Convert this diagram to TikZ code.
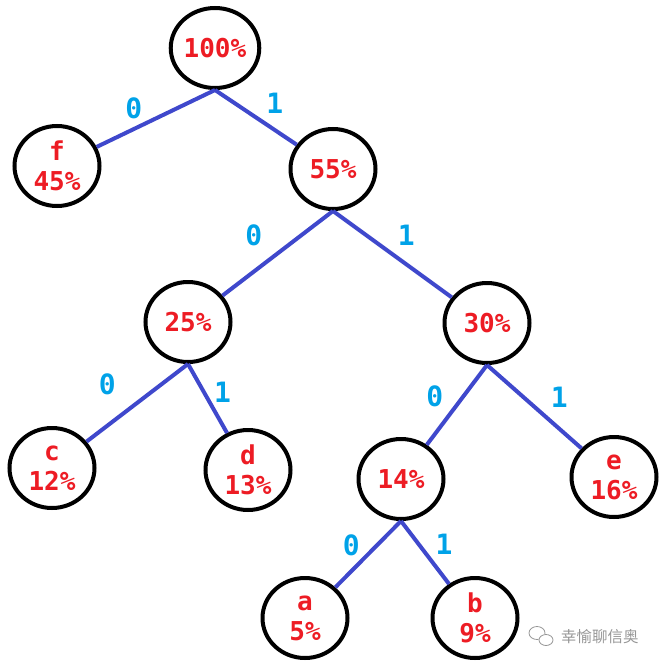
\documentclass[tikz,border=0pt]{standalone}
\usepackage{fontspec}
\setmonofont{DejaVu Sans Mono}
\newfontfamily\cjk{Noto Sans CJK SC}
\usepackage{xcolor}
\usepackage{tikz}
\usetikzlibrary{
	arrows.meta,
	calc,
	shapes.geometric
}
\definecolor{pctred}{RGB}{237,28,36}
\definecolor{edgeblue}{RGB}{63,72,204}
\definecolor{bitblue}{RGB}{0,162,232}
\definecolor{markgray}{RGB}{150,150,150}

\begin{document}
\begin{tikzpicture}[x=1pt, y=-1pt,
		bubble/.style={draw, ellipse, line width=4pt, minimum width=85pt, minimum height=80pt,
			inner sep=0pt, align=center, text=pctred,
			font=\ttfamily\bfseries\fontsize{26}{30}\selectfont},
		edge/.style={draw=edgeblue, line width=4pt},
		bitlabel/.style={text=bitblue, inner sep=0pt, font=\ttfamily\bfseries\fontsize{28}{30}\selectfont}]
		\useasboundingbox (0,0) rectangle (662,669);
		\node[bubble] (root) at (215,48) {100\%};
		\node[bubble] (f) at (57,166) {f\\45\%};
		\node[bubble] (n55) at (333,169) {55\%};
		\node[bubble] (n25) at (188,322) {25\%};
		\node[bubble] (n30) at (487,323) {30\%};
		\node[bubble] (c) at (52,468) {c\\12\%};
		\node[bubble] (d) at (248,470) {d\\13\%};
		\node[bubble] (n14) at (401,479) {14\%};
		\node[bubble] (e) at (614,477) {e\\16\%};
		\node[bubble] (a) at (305,618) {a\\5\%};
		\node[bubble] (b) at (475,618) {b\\9\%};
		\foreach \u/\v/\bit/\dx/\dy in {root/f/0/-22/10, root/n55/1/19/14,
			n55/n25/0/-24/18, n55/n30/1/14/19,
			n25/c/0/-30/18, n25/d/1/15/6,
			n30/n14/0/-22/9, n30/e/1/25/9,
			n14/a/0/-17/9, n14/b/1/19/8}
		\draw[edge] (\u.south) -- (\v) node[midway, xshift=\dx pt, yshift=\dy pt, bitlabel] {\bit};
		% watermark
		\draw[markgray, line width=0.8pt] (537,633) ellipse (8 and 6.5);
		\fill[white] (546,640) ellipse (7.5 and 6);
		\draw[markgray, line width=0.8pt] (546,640) ellipse (7 and 5.5);
		\node[text=markgray, inner sep=0pt, font=\cjk\fontsize{15.5}{17}\selectfont, anchor=west] (wm) at (561,637) {幸愉聊信奥};
	\end{tikzpicture}
\end{document}
